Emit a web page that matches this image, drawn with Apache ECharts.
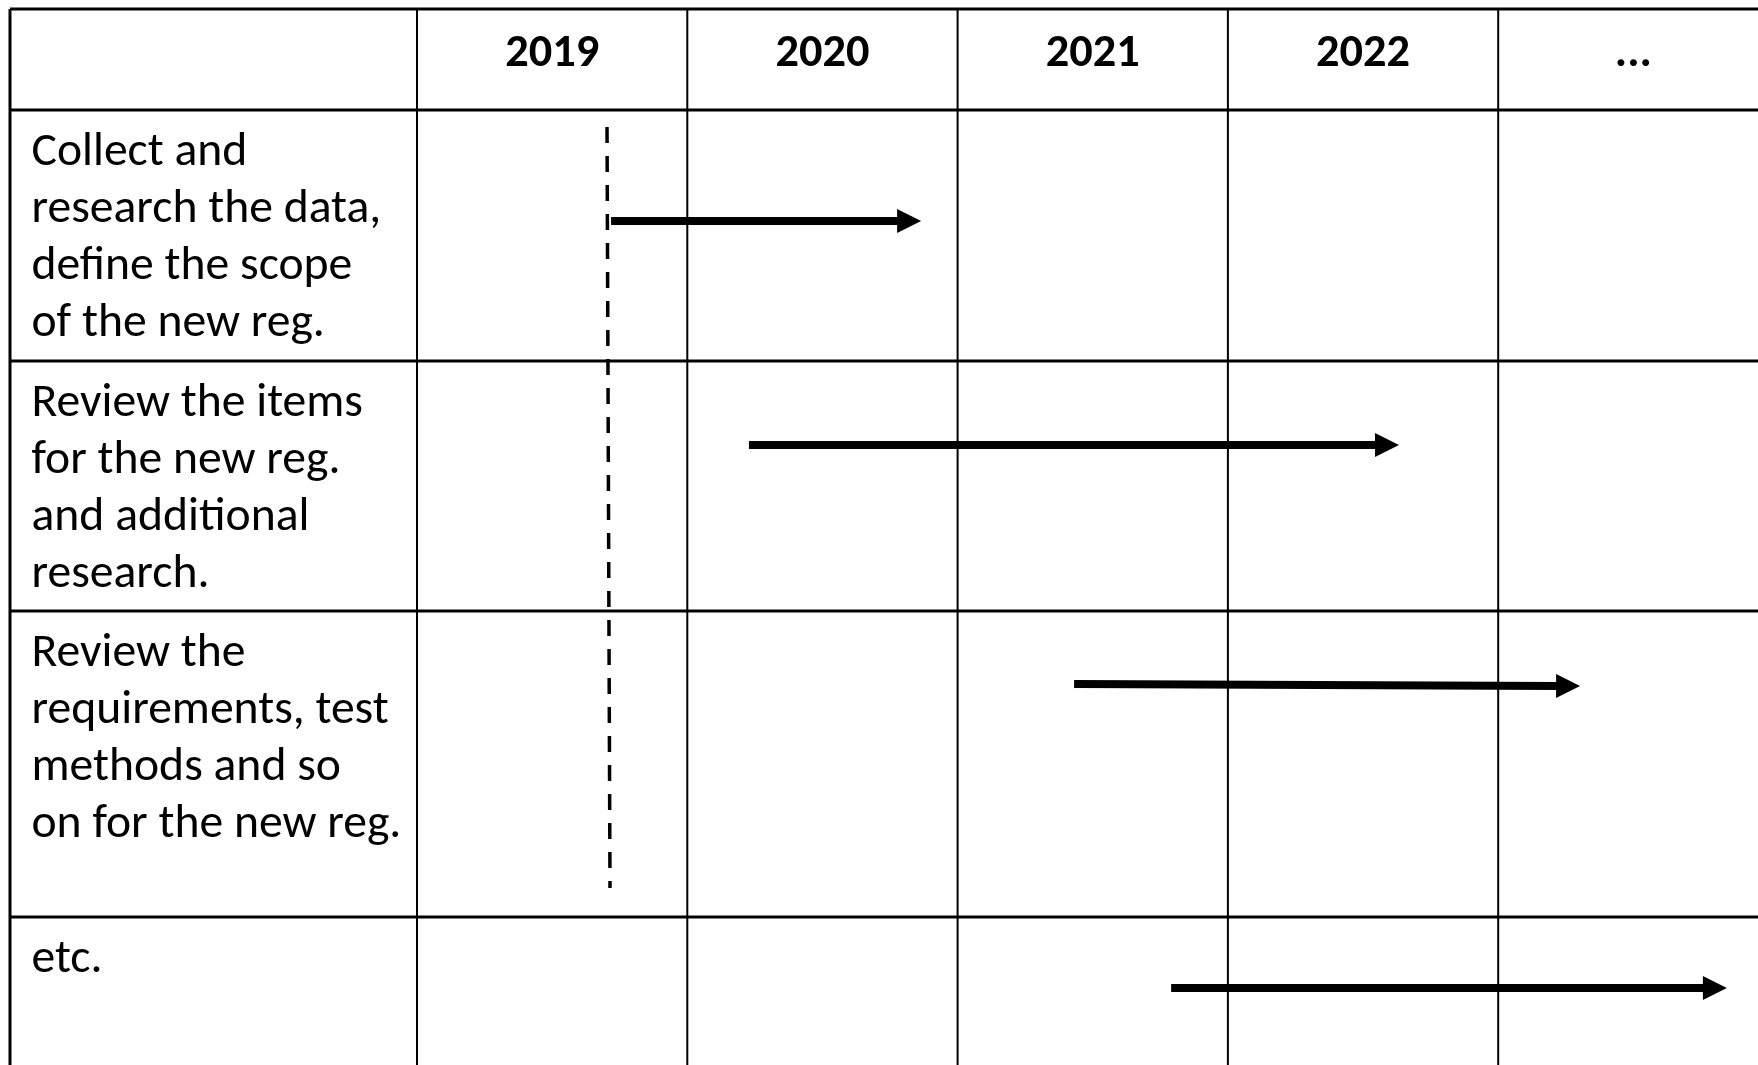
<!DOCTYPE html>
<html>
<head>
<meta charset="utf-8">
<script src="https://cdn.jsdelivr.net/npm/echarts@6/dist/echarts.min.js"></script>
<style>
html,body{margin:0;padding:0;background:#fff;}
#chart{width:1758px;height:1065px;}
</style>
</head>
<body>
<div id="chart"></div>
<script>
// ---------------- data ----------------
const yearStart = 2019;
const headerLabels = ['2019', '2020', '2021', '2022', '...'];
const taskLabels = [
  ['Collect and', 'research the data,', 'define the scope', 'of the new reg.'],
  ['Review the items', 'for the new reg.', 'and additional', 'research.'],
  ['Review the', 'requirements, test', 'methods and so', 'on for the new reg.'],
  ['etc.']
];
const taskStart = [2019.718, 2020.228, 2021.431, 2021.790];
const taskEnd   = [2020.865, 2022.633, 2023.303, 2023.846];
const markerX   = [2019.703, 2019.714];   // dashed "now" marker (top, bottom)

// ---------------- layout (pixels) ----------------
const W = 1758, H = 1065;
const L = {
  left: 10, top: 9, colW: 270.3, labelW: 407,
  rowH: [101, 251, 250, 306, 220],
  textLeft: 21.5, baseline: 55, lineGap: 57, headerBaseline: 56.5,
  arrowOff: [[111, 111], [84, 84], [73, 75], [71, 71]],
  markerTop: 17, markerBottomGap: 29
};
const rowEdges = [0];
L.rowH.forEach(h => rowEdges.push(rowEdges[rowEdges.length - 1] + h));
const gridW = W - L.left;
const gridH = H - L.top;
const xMin = yearStart - L.labelW / L.colW;
const xMax = xMin + gridW / L.colW;
const yMax = gridH;

// ---------------- fonts ----------------
const FONT = "Carlito, Calibri, Lato, 'Open Sans', sans-serif";
const mctx = document.createElement('canvas').getContext('2d');
function fitSize(text, weight, target) {
  mctx.font = weight + ' 100px ' + FONT;
  return 100 * target / mctx.measureText(text).width;
}
function midShift(weight, size) {
  mctx.font = weight + ' ' + size + 'px ' + FONT;
  mctx.textBaseline = 'middle';
  return mctx.measureText('H').actualBoundingBoxDescent;
}
const bodySize = fitSize('on for the new reg.', 'normal', 370);
const headSize = fitSize('2019', 'bold', 94);
const bodyShift = midShift('normal', bodySize);
const headShift = midShift('bold', headSize);

// ---------------- derived series data ----------------
const tableLines = [];
for (let r = 0; r < rowEdges.length - 1; r++) {
  tableLines.push([xMin, xMax + 1, rowEdges[r], rowEdges[r], 3]);
}
tableLines.push([xMin, xMin, 0, yMax + 50, 3]);
for (let c = 0; c < headerLabels.length; c++) {
  tableLines.push([yearStart + c, yearStart + c, 0, yMax + 50, 2]);
}
const headerData = headerLabels.map((t, i) => [yearStart + i + 0.5, rowEdges[0] + L.headerBaseline, i]);
const labelData = [];
const labelX = xMin + L.textLeft / L.colW;
taskLabels.forEach((lines, r) => {
  lines.forEach((t, k) => {
    labelData.push([labelX, rowEdges[r + 1] + L.baseline + k * L.lineGap, r, k]);
  });
});
const arrowData = taskStart.map((s, i) => [s, taskEnd[i],
  rowEdges[i + 1] + L.arrowOff[i][0], rowEdges[i + 1] + L.arrowOff[i][1]]);
const markerData = [[markerX[0], markerX[1], rowEdges[1] + L.markerTop, rowEdges[4] - L.markerBottomGap]];

// ---------------- chart ----------------
function segment(api, width, dash) {
  const a = api.coord([api.value(0), api.value(2)]);
  const b = api.coord([api.value(1), api.value(3)]);
  const style = { stroke: '#000', lineWidth: width };
  if (dash) { style.lineDash = dash; style.lineCap = 'butt'; }
  return { type: 'line', shape: { x1: a[0], y1: a[1], x2: b[0], y2: b[1] }, style: style };
}
const chart = echarts.init(document.getElementById('chart'));
chart.setOption({
  animation: false,
  backgroundColor: '#ffffff',
  grid: { left: L.left, top: L.top, width: gridW, height: gridH },
  xAxis: { type: 'value', min: xMin, max: xMax, show: false },
  yAxis: { type: 'value', min: 0, max: yMax, inverse: true, show: false },
  series: [
    {
      type: 'custom', name: 'table', silent: true, clip: false, data: tableLines,
      renderItem: (p, api) => segment(api, api.value(4))
    },
    {
      type: 'custom', name: 'header', silent: true, clip: false, data: headerData,
      renderItem: (p, api) => {
        const pt = api.coord([api.value(0), api.value(1)]);
        return { type: 'text', x: pt[0], y: pt[1] - headShift,
                 style: { text: headerLabels[api.value(2)], fill: '#000', fontFamily: FONT,
                          fontWeight: 'bold', fontSize: headSize, align: 'center', verticalAlign: 'middle' } };
      }
    },
    {
      type: 'custom', name: 'labels', silent: true, clip: false, data: labelData,
      renderItem: (p, api) => {
        const pt = api.coord([api.value(0), api.value(1)]);
        return { type: 'text', x: pt[0], y: pt[1] - bodyShift,
                 style: { text: taskLabels[api.value(2)][api.value(3)], fill: '#000', fontFamily: FONT,
                          fontWeight: 'normal', fontSize: bodySize, align: 'left', verticalAlign: 'middle' } };
      }
    },
    {
      type: 'custom', name: 'marker', silent: true, clip: false, data: markerData,
      renderItem: (p, api) => segment(api, 3.5, [16, 13])
    },
    {
      type: 'custom', name: 'tasks', silent: true, clip: false, data: arrowData,
      renderItem: (p, api) => {
        const a = api.coord([api.value(0), api.value(2)]);
        const b = api.coord([api.value(1), api.value(3)]);
        const ang = Math.atan2(b[1] - a[1], b[0] - a[0]);
        const hl = 24, hw = 12;
        const c = Math.cos(ang), s = Math.sin(ang);
        const bx = b[0] - hl * c, by = b[1] - hl * s;
        const nx = -s * hw, ny = c * hw;
        return { type: 'group', children: [
          { type: 'line', shape: { x1: a[0], y1: a[1], x2: bx + 2 * c, y2: by + 2 * s },
            style: { stroke: '#000', lineWidth: 8, lineCap: 'butt' } },
          { type: 'polygon', shape: { points: [[b[0], b[1]], [bx + nx, by + ny], [bx - nx, by - ny]] },
            style: { fill: '#000' } }
        ] };
      }
    }
  ]
});
</script>
</body>
</html>
